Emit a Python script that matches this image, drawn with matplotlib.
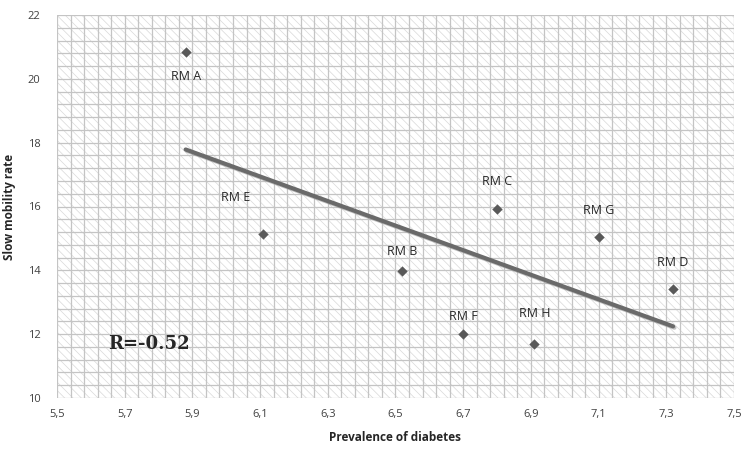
import numpy as np
import matplotlib
matplotlib.use("Agg")
import matplotlib.pyplot as plt
from matplotlib.ticker import MultipleLocator, FuncFormatter
import matplotlib.patheffects as pe

# data
names = ["RM A", "RM B", "RM C", "RM D", "RM E", "RM F", "RM G", "RM H"]
prevalence = [5.88, 6.52, 6.80, 7.32, 6.11, 6.70, 7.10, 6.91]
slow_rate = [20.85, 13.98, 15.92, 13.42, 15.14, 12.00, 15.05, 11.69]
r_text = "R=-0.52"

# label offsets in points (dx, dy)
offsets = {"RM A": (0, -18), "RM B": (0, 14), "RM C": (0, 20), "RM D": (0, 19),
           "RM E": (-20, 26), "RM F": (0, 13), "RM G": (0, 19), "RM H": (0, 22)}

plt.rcParams['font.family'] = ['Open Sans', 'DejaVu Sans']
plt.rcParams['hatch.linewidth'] = 0.5
plt.rcParams['hatch.color'] = "#d8d8d8"

fig = plt.figure(figsize=(7.56, 4.54), dpi=100)
ax = fig.add_axes([57/756, 1-398/454, (734-57)/756, (398-15)/454])

ax.set_xlim(5.5, 7.5)
ax.set_ylim(10, 22)

# hatched background
ax.add_patch(plt.Rectangle((0, 0), 1, 1, transform=ax.transAxes, facecolor="white",
                           edgecolor="#d8d8d8", hatch="\\\\\\\\", linewidth=0, zorder=0))

ax.xaxis.set_major_locator(MultipleLocator(0.2, offset=0.1))
ax.xaxis.set_minor_locator(MultipleLocator(0.04, offset=0.02))
ax.yaxis.set_major_locator(MultipleLocator(2))
ax.yaxis.set_minor_locator(MultipleLocator(0.4))
ax.grid(which="both", color="#c4c4c4", linewidth=0.9, zorder=1)
ax.set_axisbelow(True)

fmt = FuncFormatter(lambda v, p: ("%.1f" % v).replace(".", ","))
ax.xaxis.set_major_formatter(fmt)
ax.yaxis.set_major_formatter(FuncFormatter(lambda v, p: "%d" % v))
ax.tick_params(which="both", length=0, labelsize=8, colors="#404040", pad=8)
ax.tick_params(axis="y", pad=12)
for s in ax.spines.values():
    s.set_visible(False)

# trend line
k, b = np.polyfit(prevalence, slow_rate, 1)
xs = np.array([min(prevalence), max(prevalence)])
ax.plot(xs, k*xs+b, color="#6a6a6a", linewidth=3, solid_capstyle="round", zorder=3,
        path_effects=[pe.SimpleLineShadow(offset=(1, -1), shadow_color="#999999", alpha=0.6), pe.Normal()])

ax.scatter(prevalence, slow_rate, marker="D", s=28, color="#595959", zorder=4, linewidths=0)

for n, x, y in zip(names, prevalence, slow_rate):
    dx, dy = offsets[n]
    ax.annotate(n, (x, y), xytext=(dx, dy), textcoords="offset points",
                ha="center", va="center", fontsize=9, color="#262626", zorder=5)

ax.text(5.65, 11.7, r_text, fontsize=13, fontweight="bold", family="DejaVu Serif",
        color="#262626", ha="left", va="center", zorder=5)

ax.set_xlabel("Prevalence of diabetes", fontsize=8.5, fontweight="bold", color="#262626", labelpad=8)
ax.set_ylabel("Slow mobility rate", fontsize=8.5, fontweight="bold", color="#262626", labelpad=8)

fig.savefig("out.png", dpi=100, facecolor="white")
